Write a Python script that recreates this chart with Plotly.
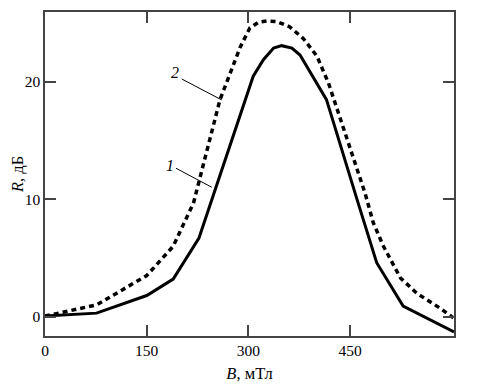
import plotly.graph_objects as go

# Curve 1 (solid)
b1 = [0, 76, 150, 189, 227, 288, 307, 322, 337, 349, 364, 376, 415, 460, 489, 528, 603]
r1 = [0.05, 0.3, 1.8, 3.2, 6.7, 17.2, 20.5, 21.9, 22.9, 23.1, 22.9, 22.3, 18.5, 10.0, 4.6, 0.9, -1.3]

# Curve 2 (dashed)
b2 = [0, 38, 76, 150, 189, 219, 229, 258, 288, 302, 315, 327, 342, 361, 381, 401, 418, 445, 472, 484, 499, 524, 548, 583, 602]
r2 = [0.05, 0.5, 1.0, 3.5, 6.0, 9.7, 11.9, 18.5, 23.0, 24.6, 25.1, 25.2, 25.15, 24.7, 23.7, 22.2, 19.9, 15.1, 10.5, 8.0, 6.0, 3.3, 2.0, 0.7, -0.1]

x_ticks = [0, 150, 300, 450]
y_ticks = [0, 10, 20]

# curve labels: text, text position, leader start, leader end
labels = ["2", "1"]
label_pos = [(191.5, 20.8), (184.4, 12.85)]
leader_start = [(201.6, 20.26), (193.2, 12.65)]
leader_end = [(260.6, 18.47), (245.9, 11.03)]

FONT = "Liberation Serif, Times New Roman, serif"

fig = go.Figure()
fig.add_trace(go.Scatter(x=b1, y=r1, mode="lines",
                         line=dict(color="black", width=3), showlegend=False))
fig.add_trace(go.Scatter(x=b2, y=r2, mode="lines",
                         line=dict(color="black", width=3.5, dash="5px,4px"), showlegend=False))

for t, p, s, e in zip(labels, label_pos, leader_start, leader_end):
    fig.add_shape(type="line", x0=s[0], y0=s[1], x1=e[0], y1=e[1],
                  line=dict(color="black", width=1), xref="x", yref="y")
    fig.add_annotation(x=p[0], y=p[1], text="<i>" + t + "</i>", showarrow=False,
                       font=dict(family=FONT, size=16, color="black"),
                       xref="x", yref="y")

axis_common = dict(showgrid=False, zeroline=False, showline=True, linecolor="#444",
                   linewidth=1.5, mirror="allticks", ticks="inside", ticklen=11,
                   tickcolor="#444", tickwidth=1.5, automargin=False,
                   tickfont=dict(family=FONT, size=15.5, color="black"))

fig.update_xaxes(range=[0, 603], tickvals=x_ticks, ticktext=[str(v) for v in x_ticks],
                 title=dict(text="<i>B</i>, мТл", standoff=9,
                            font=dict(family=FONT, size=16.5, color="black")),
                 **axis_common)
fig.update_yaxes(range=[-1.65, 25.97], tickvals=y_ticks, ticktext=[str(v) for v in y_ticks],
                 title=dict(text="<i>R</i>, дБ", standoff=8,
                            font=dict(family=FONT, size=16.5, color="black")),
                 **axis_common)

fig.update_layout(width=487, height=386, margin=dict(l=37, r=41, t=4, b=58),
                  font=dict(family=FONT),
                  plot_bgcolor="white", paper_bgcolor="white")

fig.write_html("out.html")
